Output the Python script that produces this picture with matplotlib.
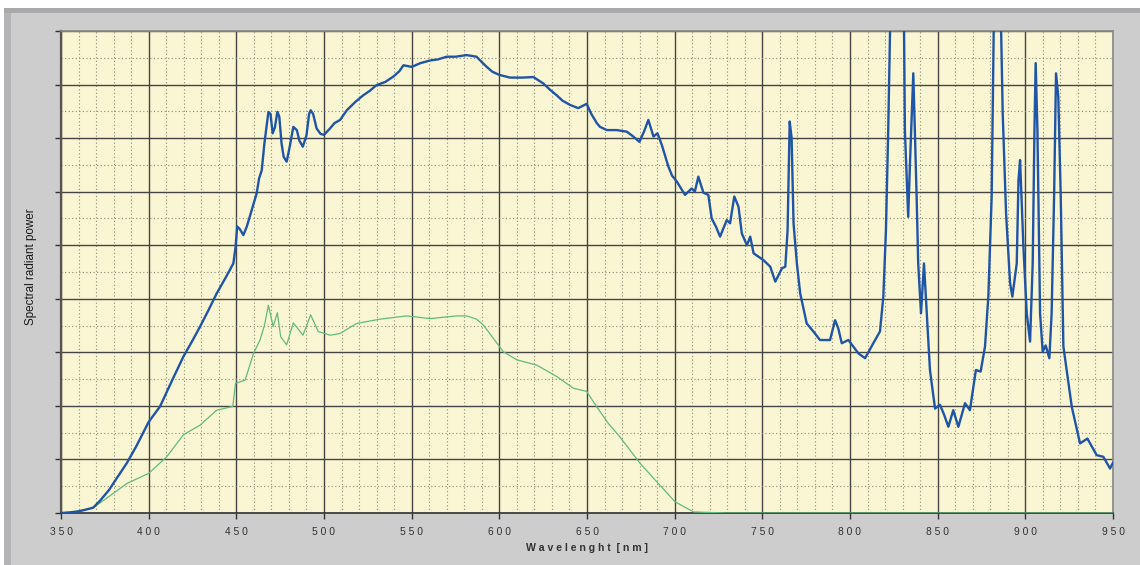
import matplotlib.pyplot as plt
from matplotlib.patches import Rectangle
from matplotlib.ticker import MultipleLocator

# Espectro medido (curva azul) - longitud de onda en nm, potencia relativa
wl_azul = [350, 355, 360, 365, 368.4, 372, 377.4, 382, 387.5, 393, 400, 406.5, 413, 419.8, 425,
           429.3, 434, 438.8, 444, 448.3, 449.5, 450.5, 452, 454, 456, 458.8, 461.6, 463, 464.5,
           466, 468.3, 469.5, 470.7, 472, 473.4, 474.5, 475.8, 477, 478.7, 480.5, 482.5, 484.5,
           486, 487.9, 490, 491.5, 492.4, 493.8, 495.8, 498, 500, 503.4, 506, 509.2, 513, 518,
           522.4, 526, 530, 535, 539.6, 543, 545.3, 550, 555, 560.5, 565, 570, 575, 581.4, 587,
           590, 592.8, 596, 600, 606.1, 613, 619.4, 625.1, 629, 632.7, 636, 640.3, 645, 649.8,
           652.5, 655.6, 657.4, 661.3, 667, 672.7, 676.4, 679.9, 682.5, 685, 687.9, 690.2, 692.7,
           696.4, 698.5, 701.2, 705.9, 709.7, 711.5, 713.5, 716.4, 719.2, 721.1, 723.5, 725.9,
           729.7, 731.6, 734, 736.4, 738.3, 741.2, 743.1, 745, 750.7, 754.5, 757.4, 761.2, 763.1,
           764.4, 765.6, 766.7, 767.8, 769.7, 771.6, 775.3, 779.1, 782.9, 788.6, 791.5, 793.3,
           795.3, 799.1, 804.8, 808.6, 813.3, 817.1, 819, 820.5, 821.8, 823.1, 825, 829, 830.7,
           831.3, 833.2, 834.2, 836.1, 838, 838.9, 840.5, 842.2, 844.1, 845.6, 848.5, 851.3,
           853.5, 856.1, 858.9, 861.8, 865.6, 868.4, 871.8, 874.5, 877, 878.9, 880.8, 882.1, 884,
           885.9, 887.1, 889, 891.3, 892.6, 895.1, 896.1, 897, 898.9, 900.8, 902.7, 904.2, 905.2,
           905.9, 906.9, 908.4, 909.9, 911.6, 913.7, 915, 916.4, 917.5, 918.8, 920.2, 921.7,
           924.6, 926.5, 931.2, 935.4, 940.7, 944.5, 948.3, 950]
val_azul = [0.0, 0.01, 0.03, 0.07, 0.10, 0.22, 0.43, 0.66, 0.93, 1.25, 1.70, 1.99, 2.45, 2.92, 3.22,
            3.48, 3.78, 4.10, 4.40, 4.66, 4.95, 5.35, 5.30, 5.19, 5.35, 5.66, 5.97, 6.25, 6.40,
            6.9, 7.49, 7.45, 7.09, 7.2, 7.49, 7.4, 6.90, 6.65, 6.56, 6.85, 7.21, 7.15,
            6.95, 6.84, 7.05, 7.45, 7.52, 7.45, 7.18, 7.08, 7.06, 7.18, 7.28, 7.34, 7.52, 7.68,
            7.80, 7.88, 7.99, 8.05, 8.15, 8.25, 8.36, 8.33, 8.40, 8.45, 8.47, 8.52, 8.52, 8.55, 8.52,
            8.42, 8.33, 8.24, 8.18, 8.13, 8.13, 8.14, 8.02, 7.9, 7.80, 7.70, 7.62, 7.56, 7.64,
            7.45, 7.28, 7.21, 7.15, 7.15, 7.12, 7.03, 6.93, 7.12, 7.34, 7.03, 7.09, 6.87,
            6.47, 6.30, 6.19, 5.94, 6.06, 6.0, 6.28, 5.98, 5.94, 5.50, 5.35, 5.16,
            5.47, 5.41, 5.91, 5.72, 5.22, 5.00, 5.16, 4.85, 4.72, 4.60, 4.32, 4.57, 4.60,
            5.28, 7.31, 7.00, 5.41, 4.66, 4.10, 3.54, 3.39, 3.23, 3.23, 3.60, 3.45,
            3.17, 3.23, 2.98, 2.89, 3.17, 3.39, 4.04, 5.28, 7.15, 9.5, 12, 12, 9.5,
            7.15, 5.53, 6.53, 8.21, 5.91, 4.66, 3.73, 4.66, 3.54, 2.67, 1.95, 2.02,
            1.85, 1.61, 1.92, 1.61, 2.05, 1.92, 2.67, 2.64, 3.11, 4.04, 5.91, 9.5, 12,
            9.5, 7.46, 5.60, 4.29, 4.04, 4.66, 6.22, 6.59, 4.97, 3.73, 3.20, 4.66, 7.15,
            8.40, 7.15, 3.73, 3.01, 3.13, 2.89, 3.73, 5.91, 8.21, 7.77, 5.91, 3.11,
            2.42, 1.98, 1.30, 1.39, 1.08, 1.05, 0.83, 0.94]

# Espectro de referencia (curva verde)
wl_verde = [350, 360, 368, 377, 387.5, 400, 410.3, 419.8, 429.3, 438.8, 448, 449.5, 455, 459.8,
            463.5, 466, 468.3, 471, 473.4, 475.3, 478.7, 482.5, 488, 492.4, 496.7, 503.4, 509,
            518.7, 532, 547.1, 560.5, 575.7, 581.4, 587, 590.9, 596.6, 602.3, 610, 621.4, 632.7,
            642.2, 649.8, 655.6, 662.2, 668.8, 680.2, 690.7, 700.2, 710.7, 720, 730, 950]
val_verde = [0.0, 0.04, 0.09, 0.30, 0.55, 0.74, 1.05, 1.46, 1.64, 1.92, 1.99, 2.42, 2.48, 2.98,
             3.23, 3.5, 3.88, 3.48, 3.74, 3.29, 3.14, 3.55, 3.32, 3.70, 3.39, 3.32, 3.35,
             3.54, 3.62, 3.68, 3.63, 3.68, 3.68, 3.62, 3.51, 3.26, 3.01, 2.86, 2.76, 2.55,
             2.33, 2.27, 1.98, 1.67, 1.42, 0.93, 0.55, 0.21, 0.02, 0.01, 0.0, 0.0]

ticks_x = [350, 400, 450, 500, 550, 600, 650, 700, 750, 800, 850, 900, 950]

fig = plt.figure(figsize=(11.4, 5.65), dpi=100)
fig.patch.set_facecolor('#cdcdcd')

# marco exterior
fig.patches.append(Rectangle((0, 1 - 8 / 565), 1, 8 / 565, transform=fig.transFigure,
                             facecolor='white', edgecolor='none', zorder=0))
fig.patches.append(Rectangle((0, 0), 4 / 1140, 1, transform=fig.transFigure,
                             facecolor='white', edgecolor='none', zorder=0))
fig.patches.append(Rectangle((4 / 1140, 1 - 13 / 565), 1, 5 / 565, transform=fig.transFigure,
                             facecolor='#a9a9ab', edgecolor='none', zorder=0))
fig.patches.append(Rectangle((4 / 1140, 0), 7 / 1140, 1 - 13 / 565, transform=fig.transFigure,
                             facecolor='#b4b4b6', edgecolor='none', zorder=0))

ax = fig.add_axes([61 / 1140, 1 - 513 / 565, 1052 / 1140, 482 / 565])
ax.set_facecolor('#faf5d2')

ax.plot(wl_verde, val_verde, color='#62bb7e', lw=0.9, zorder=3)
ax.plot(wl_azul, val_azul, color='#1f55a6', lw=1.7, zorder=4)

ax.set_xlim(350, 950)
ax.set_ylim(0, 9)
ax.set_xticks(ticks_x)
ax.set_xticklabels([' '.join(str(t)) for t in ticks_x], fontsize=7.4,
                   color='#333333', family='Liberation Sans')
ax.xaxis.set_minor_locator(MultipleLocator(10))
ax.yaxis.set_major_locator(MultipleLocator(1))
ax.yaxis.set_minor_locator(MultipleLocator(0.5))
ax.set_yticklabels([])

ax.grid(which='major', color='#454545', lw=1.0, zorder=1)
ax.grid(which='minor', color='#8f8b78', lw=0.8, linestyle=(0, (1, 2.2)), zorder=1)
ax.set_axisbelow(True)

ax.tick_params(axis='both', which='major', length=4, width=1, color='#333333', direction='out')
ax.tick_params(axis='x', which='major', pad=6)
ax.tick_params(which='minor', length=0)

for lado in ['top', 'right']:
    ax.spines[lado].set_color('#8a8a8a')
    ax.spines[lado].set_linewidth(1.2)
ax.spines['left'].set_color('#555555')
ax.spines['left'].set_linewidth(1.6)
ax.spines['bottom'].set_color('#333333')
ax.spines['bottom'].set_linewidth(1.2)

fig.text(587 / 1140, 1 - 548 / 565, 'W a v e l e n g h t  [ n m ]', ha='center', va='center',
         fontsize=7.6, fontweight='bold', color='#333333', family='Liberation Sans')
fig.text(31 / 1140, 1 - 267 / 565, 'Spectral radiant power', ha='center', va='center',
         rotation=90, fontsize=8.4, color='#1a1a1a', family='Liberation Sans')

fig.savefig('out.png', dpi=100, facecolor=fig.get_facecolor())
